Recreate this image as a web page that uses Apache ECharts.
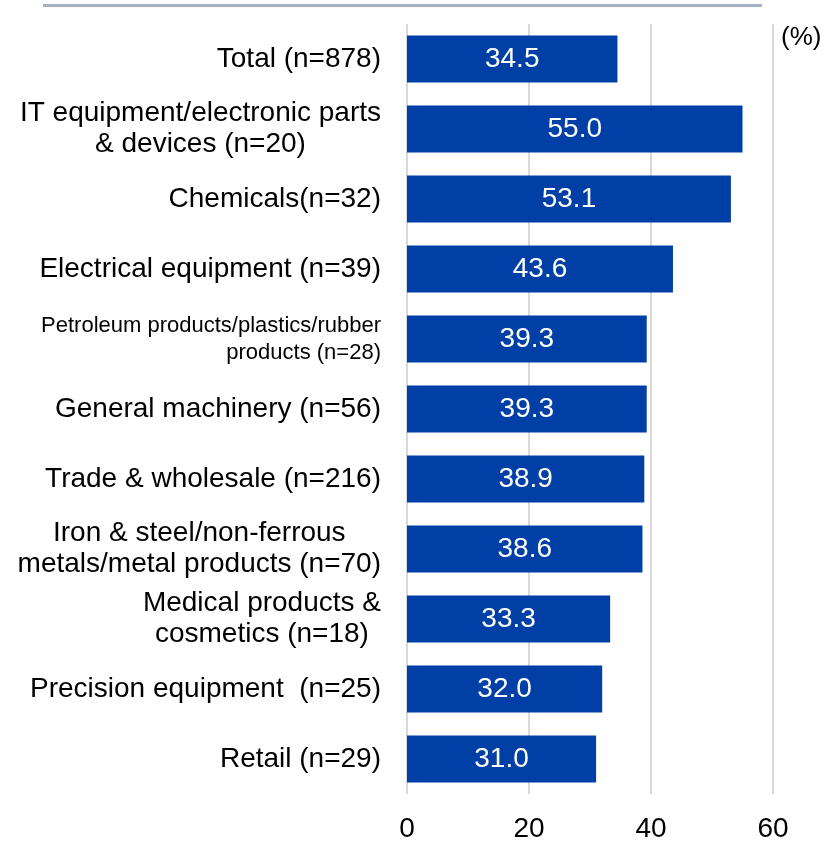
<!DOCTYPE html>
<html>
<head>
<meta charset="utf-8">
<script src="https://cdn.jsdelivr.net/npm/echarts@6/dist/echarts.min.js"></script>
<style>
  html, body { margin: 0; padding: 0; background: #fff; }
  #chart { width: 827px; height: 843px; }
</style>
</head>
<body>
<div id="chart"></div>
<script>
// Industry categories (top to bottom)
const categories = [
  'Total (n=878)',
  'IT equipment/electronic parts\n& devices (n=20)',
  'Chemicals(n=32)',
  'Electrical equipment (n=39)',
  'Petroleum products/plastics/rubber\nproducts (n=28)',
  'General machinery (n=56)',
  'Trade & wholesale (n=216)',
  'Iron & steel/non-ferrous\nmetals/metal products (n=70)',
  'Medical products &\ncosmetics (n=18)',
  'Precision equipment  (n=25)',
  'Retail (n=29)'
];
// Share of respondents (%)
const values = [34.5, 55.0, 53.1, 43.6, 39.3, 39.3, 38.9, 38.6, 33.3, 32.0, 31.0];
// Value axis ticks
const xTicks = [0, 20, 40, 60];
// Labels drawn in a smaller, right-aligned style
const smallLabels = ['Petroleum products/plastics/rubber\nproducts (n=28)'];

const FONT = 'Arial, "Liberation Sans", sans-serif';
const chart = echarts.init(document.getElementById('chart'), null, { renderer: 'canvas' });

chart.setOption({
  animation: false,
  backgroundColor: '#ffffff',
  grid: { left: 407, right: 54, top: 24, bottom: 48, containLabel: false },
  xAxis: {
    type: 'value',
    min: xTicks[0],
    max: xTicks[xTicks.length - 1],
    interval: xTicks[1] - xTicks[0],
    axisLine: { show: false },
    axisTick: { show: false },
    splitLine: { show: true, lineStyle: { color: '#d9d9d9', width: 2 } },
    axisLabel: { color: '#000', fontFamily: FONT, fontSize: 28, margin: 21 }
  },
  yAxis: {
    type: 'category',
    inverse: true,
    data: categories,
    axisLine: { show: false },
    axisTick: { show: false },
    axisLabel: {
      margin: 26,
      color: '#000',
      fontFamily: FONT,
      fontSize: 28,
      formatter: function (v) {
        const style = smallLabels.indexOf(v) >= 0 ? 's' : 'c';
        return v.split('\n').map(function (line) { return '{' + style + '|' + line + '}'; }).join('\n');
      },
      rich: {
        c: { align: 'center', fontFamily: FONT, fontSize: 28, lineHeight: 31, color: '#000' },
        s: { align: 'right', fontFamily: FONT, fontSize: 22, lineHeight: 27, color: '#000' }
      }
    }
  },
  series: [{
    type: 'bar',
    data: values,
    barWidth: 47,
    itemStyle: { color: '#0040a6' },
    label: {
      show: true,
      position: 'inside',
      color: '#ffffff',
      fontFamily: FONT,
      fontSize: 28,
      formatter: function (p) { return p.value.toFixed(1); }
    }
  }],
  graphic: [
    { type: 'rect', shape: { x: 43, y: 4, width: 719, height: 3 }, style: { fill: '#a7b1c4' } },
    { type: 'text', left: 781, top: 25, style: { text: '(%)', fill: '#000', font: '26px ' + FONT } }
  ]
});
</script>
</body>
</html>
